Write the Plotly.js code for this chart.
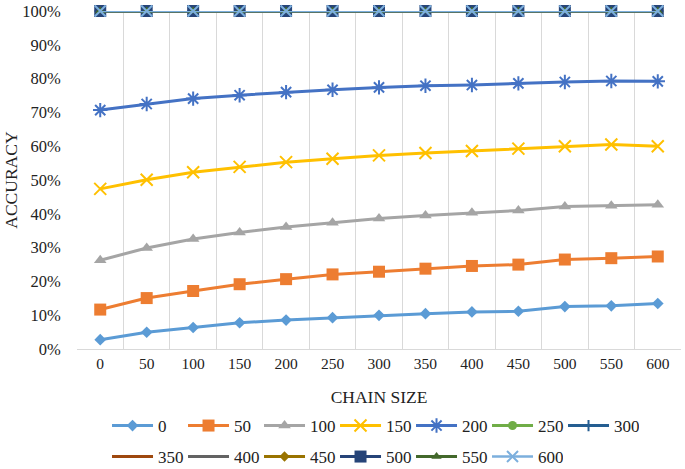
<!DOCTYPE html>
<html>
<head>
<meta charset="utf-8">
<script src="https://cdn.plot.ly/plotly-3.0.1.min.js"></script>
<style>
html,body{margin:0;padding:0;background:#fff;}
#chart{width:685px;height:469px;}
.modebar-container{display:none !important;}
#chart .xtick text, #chart .ytick text, #chart .legendtext {
  font-family: "Liberation Serif", "Times New Roman", serif !important;
}
</style>
</head>
<body>
<div id="chart"></div>
<script>
// Categories (chain size) on the x axis
const chainSizes = ['0','50','100','150','200','250','300','350','400','450','500','550','600'];

// Series names (legend labels)
const seriesNames = ['0','50','100','150','200','250','300','350','400','450','500','550','600'];

// Accuracy values (fractions) for each series
const acc0   = [0.028,0.050,0.064,0.078,0.086,0.093,0.100,0.105,0.110,0.112,0.126,0.128,0.135];
const acc50  = [0.117,0.151,0.172,0.192,0.207,0.221,0.229,0.238,0.246,0.250,0.265,0.269,0.274];
const acc100 = [0.263,0.299,0.326,0.345,0.361,0.374,0.386,0.395,0.403,0.410,0.422,0.424,0.427];
const acc150 = [0.474,0.501,0.523,0.539,0.553,0.563,0.573,0.580,0.586,0.593,0.600,0.605,0.600];
const acc200 = [0.707,0.725,0.741,0.751,0.760,0.767,0.774,0.779,0.781,0.786,0.790,0.793,0.792];
const acc250 = [1,1,1,1,1,1,1,1,1,1,1,1,1];
const acc300 = [1,1,1,1,1,1,1,1,1,1,1,1,1];
const acc350 = [1,1,1,1,1,1,1,1,1,1,1,1,1];
const acc400 = [1,1,1,1,1,1,1,1,1,1,1,1,1];
const acc450 = [1,1,1,1,1,1,1,1,1,1,1,1,1];
const acc500 = [1,1,1,1,1,1,1,1,1,1,1,1,1];
const acc550 = [1,1,1,1,1,1,1,1,1,1,1,1,1];
const acc600 = [1,1,1,1,1,1,1,1,1,1,1,1,1];

const seriesValues = [acc0,acc50,acc100,acc150,acc200,acc250,acc300,acc350,acc400,acc450,acc500,acc550,acc600];

const colors = ['#5B9BD5','#ED7D31','#A5A5A5','#FFC000','#4472C4','#70AD47','#255E91','#9E480E','#636363','#997300','#264478','#43682B','#7CAFDD'];
const symbols = ['diamond','square','triangle-up','x-thin-open','asterisk-open','circle','cross-thin-open','line-ew-open','line-ew-open','diamond','square','triangle-up','x-thin-open'];
const sizes = [9,12,11,12,12,9,8,7,7,8,12,9,11];

const traces = seriesNames.map((name,i) => {
  const thin = symbols[i].indexOf('open') >= 0;
  return {
    type:'scatter', mode:'lines+markers', name:name,
    x: chainSizes, y: seriesValues[i],
    cliponaxis:false,
    legend: i < 7 ? 'legend' : 'legend2',
    line:{color:colors[i], width: i === 12 ? 2.5 : 3},
    marker:{symbol:symbols[i], size:sizes[i], color:colors[i],
      line:{color:colors[i], width: thin ? 2 : 0}}
  };
});

const serif = 'Liberation Serif';
const txt = '#222';

const legendCommon = {
  orientation:'h', xanchor:'left', yanchor:'middle',
  xref:'paper', yref:'container',
  font:{family:serif, size:17, color:txt},
  itemwidth:41, entrywidth:20, entrywidthmode:'pixels',
  bgcolor:'rgba(0,0,0,0)', borderwidth:0, traceorder:'normal'
};

const layout = {
  width:685, height:469,
  margin:{l:77, r:4, t:11, b:113, pad:0},
  paper_bgcolor:'#fff', plot_bgcolor:'#fff',
  font:{family:serif, color:txt},
  xaxis:{
    type:'category', range:[-0.5,12.5],
    tickson:'boundaries', showgrid:true, gridcolor:'#D9D9D9', gridwidth:1,
    showline:true, linecolor:'#D9D9D9', linewidth:1,
    ticks:'outside', ticklen:8, tickcolor:'rgba(0,0,0,0)',
    tickfont:{family:serif, size:15.5, color:txt},
    zeroline:false, automargin:true,
    title:{text:'CHAIN SIZE', font:{family:serif, size:17.5, color:txt}, standoff:20}
  },
  yaxis:{
    range:[0,1], dtick:0.1, tickformat:'.0%',
    showgrid:false, zeroline:false, showline:false,
    ticks:'outside', ticklen:12, tickcolor:'rgba(0,0,0,0)',
    tickfont:{family:serif, size:16.5, color:txt},
    automargin:false,
    title:{text:'ACCURACY', font:{family:serif, size:17.5, color:txt}, standoff:0}
  },
  legend: Object.assign({x:0.0497, y:0.0917}, legendCommon),
  legend2: Object.assign({x:0.0497, y:0.0256}, legendCommon),
  showlegend:true
};

Plotly.newPlot('chart', traces, layout);
</script>
</body>
</html>
